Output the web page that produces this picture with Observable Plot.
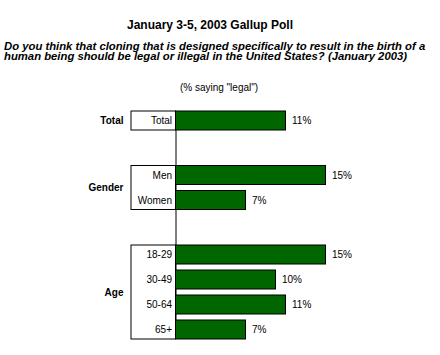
<!DOCTYPE html>
<html>
<head>
<meta charset="utf-8">
<script src="https://cdn.jsdelivr.net/npm/d3@7"></script>
<script src="https://cdn.jsdelivr.net/npm/@observablehq/plot@0.6"></script>
<style>
  html, body { margin: 0; padding: 0; background: #fff; }
  #wrap { position: relative; width: 440px; height: 355px; font-family: "Liberation Sans", Arial, sans-serif; color: #000; }
  .t { position: absolute; white-space: nowrap; }
  #title { left: 0; width: 420px; text-align: center; top: 18px; font-size: 12px; font-weight: bold; line-height: 14px; }
  #sub { left: 4px; top: 41px; font-size: 11.3px; font-weight: bold; font-style: italic; line-height: 10px; }
  #note { left: 0; width: 438px; text-align: center; top: 82px; font-size: 10px; line-height: 12px; }
  #chart { position: absolute; left: 0; top: 0; }
</style>
</head>
<body>
<div id="wrap">
  <div class="t" id="title">January 3-5, 2003 Gallup Poll</div>
  <div class="t" id="sub">Do you think that cloning that is designed specifically to result in the birth of a<br>human being should be legal or illegal in the United States? (January 2003)</div>
  <div class="t" id="note">(% saying "legal")</div>
  <div id="chart"></div>
</div>
<script>
// Data
const groups = ["Total", "Gender", "Age"];
const categories = ["Total", "Men", "Women", "18-29", "30-49", "50-64", "65+"];
const categoryGroup = ["Total", "Gender", "Gender", "Age", "Age", "Age", "Age"];
const values = [11, 15, 7, 15, 10, 11, 7];
const valueLabels = ["11%", "15%", "7%", "15%", "10%", "11%", "7%"];

// Layout (in row units)
const barFrac = 0.76;
const groupGap = 1.18;
let pos = 0;
const rows = categories.map((c, i) => {
  if (i > 0 && categoryGroup[i] !== categoryGroup[i - 1]) pos += groupGap;
  const r = {category: c, group: categoryGroup[i], value: values[i], label: valueLabels[i], y1: pos, y2: pos + barFrac};
  pos += 1;
  return r;
});
const yMax = rows[rows.length - 1].y2;
const groupRows = groups.map(g => {
  const rs = rows.filter(r => r.group === g);
  return {group: g, y1: rs[0].y1, y2: rs[rs.length - 1].y2, ym: (rs[0].y1 + rs[rs.length - 1].y2) / 2};
});

const boxLeft = -4.45;
const plot = Plot.plot({
  width: 440,
  height: 355,
  marginLeft: 0, marginRight: 0, marginTop: 0, marginBottom: 0,
  x: {domain: [boxLeft, 15], range: [131, 325.5], axis: null},
  y: {domain: [0, yMax], range: [111, 339], axis: null},
  style: {fontFamily: '"Liberation Sans", Arial, sans-serif', color: "#000", background: "transparent"},
  marks: [
    Plot.rect(groupRows, {x1: boxLeft, x2: 0, y1: "y1", y2: "y2", fill: "#fff", stroke: "#000", strokeWidth: 1}),
    Plot.ruleX([0], {y1: 0, y2: yMax, stroke: "#000", strokeWidth: 1}),
    Plot.rect(rows, {x1: 0, x2: "value", y1: "y1", y2: "y2", fill: "#006600", stroke: "#000", strokeWidth: 1}),
    Plot.text(rows, {x: 0, y: d => (d.y1 + d.y2) / 2, text: "category", textAnchor: "end", dx: -4, fontSize: 10, fill: "#000"}),
    Plot.text(rows, {x: "value", y: d => (d.y1 + d.y2) / 2, text: "label", textAnchor: "start", dx: 6, fontSize: 10, fill: "#000"}),
    Plot.text(groupRows, {x: boxLeft, y: "ym", text: "group", textAnchor: "end", dx: -8, fontSize: 10, fontWeight: "bold", fill: "#000"})
  ]
});
document.getElementById("chart").appendChild(plot);
</script>
</body>
</html>
